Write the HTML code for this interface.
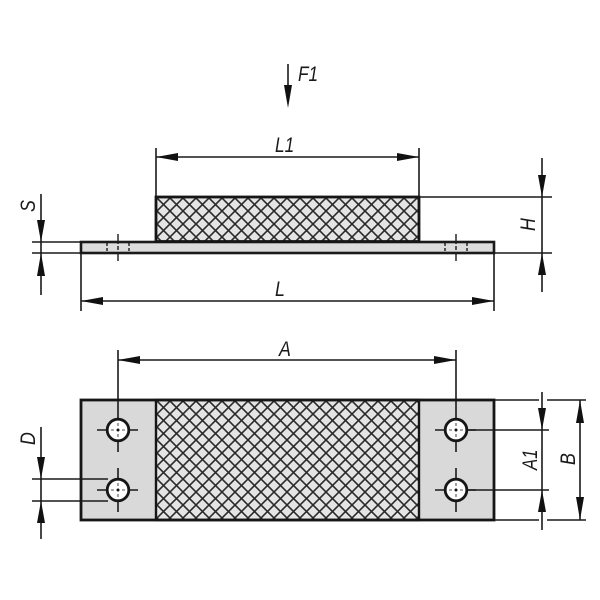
<!DOCTYPE html>
<html><head><meta charset="utf-8"><style>
html,body{margin:0;padding:0;background:#fff}
svg{display:block}
text{font-family:"Liberation Sans",sans-serif;font-style:italic;font-size:21px;fill:#1a1a1a}
</style></head><body>
<svg width="600" height="600" viewBox="0 0 600 600" xmlns="http://www.w3.org/2000/svg">
<defs>
<pattern id="m" width="13" height="13" patternUnits="userSpaceOnUse" patternTransform="translate(157 198)">
<rect width="13" height="13" fill="#e4e4e4"/>
<path d="M0 0L13 13M13 0L0 13" stroke="#2a2a2a" stroke-width="1.6"/>
</pattern>
<pattern id="m2" width="13" height="13" patternUnits="userSpaceOnUse" patternTransform="translate(157 401)">
<rect width="13" height="13" fill="#e4e4e4"/>
<path d="M0 0L13 13M13 0L0 13" stroke="#2a2a2a" stroke-width="1.6"/>
</pattern>
</defs>
<!-- top view -->
<rect x="81" y="242" width="413" height="11" fill="#dcdcdc" stroke="#1a1a1a" stroke-width="2.6"/>
<rect x="156" y="197" width="263" height="44.5" fill="url(#m)" stroke="#161616" stroke-width="2.8"/>
<g stroke="#1a1a1a" stroke-width="1.4" fill="none">
<path d="M107 243V252M129 243V252M445 243V252M467 243V252" stroke-dasharray="3 2"/>
<path d="M118 234V261M456 234V261" stroke-dasharray="10 2 4 2 10"/>
</g>
<g stroke="#1a1a1a" stroke-width="1.6" fill="none">
<path d="M288 64V90"/>
<path d="M156 148V197M419 148V197M156 157H419"/>
<path d="M41 194V295M32 242H81M32 253H81"/>
<path d="M81 253V311M494 253V311M81 301H494"/>
<path d="M542 158V292M419 197H552M494 253H552"/>
<path d="M118 350V400M456 350V400M118 360H456"/>
<path d="M41 427V539M32 479H81M32 501H81"/>
<path d="M542 392V530M494 430H549M494 490H549"/>
<path d="M494 400H539M547 400H586M494 520H539M547 520H586M580 400V520"/>
</g>
<!-- bottom view -->
<path d="M82 401H156V519H82ZM419 401H493V519H419Z" fill="#d9d9d9"/>
<rect x="156" y="400" width="263" height="120" fill="url(#m2)" stroke="#161616" stroke-width="2.4"/>
<rect x="81" y="400" width="413" height="120" fill="none" stroke="#161616" stroke-width="2.8"/>
<g stroke="#1a1a1a" stroke-width="1.6" fill="none">
<path d="M81 479H108M81 501H108M118 400V420M456 400V420M468 430H494M468 490H494"/>
<path d="M97 430H108M128 430H138M118 441V452"/>
<path d="M97 490H108M128 490H138M118 468V479M118 501V512"/>
<path d="M435 430H446M466 430H476M456 441V452"/>
<path d="M435 490H446M466 490H476M456 468V479M456 501V512"/>
</g>
<g stroke="#161616" fill="#fff" stroke-width="2.8">
<circle cx="118" cy="430" r="10.8"/><circle cx="118" cy="490" r="10.8"/>
<circle cx="456" cy="430" r="10.8"/><circle cx="456" cy="490" r="10.8"/>
</g>
<g stroke="#555" stroke-width="1.1" fill="none">
<path d="M111 430H114M122 430H125M118 423V426M118 434V437"/>
<path d="M111 490H114M122 490H125M118 483V486M118 494V497"/>
<path d="M449 430H452M460 430H463M456 423V426M456 434V437"/>
<path d="M449 490H452M460 490H463M456 483V486M456 494V497"/>
</g>
<g fill="#111">
<circle cx="118" cy="430" r="1.5"/><circle cx="118" cy="490" r="1.5"/>
<circle cx="456" cy="430" r="1.5"/><circle cx="456" cy="490" r="1.5"/>
<path d="M288 108L284 85H292Z"/>
<path d="M156 157L178 153V161ZM419 157L397 153V161Z"/>
<path d="M41 242L37 220H45ZM41 253L37 276H45Z"/>
<path d="M81 301L103 297V305ZM494 301L472 297V305Z"/>
<path d="M542 197L538 175H546ZM542 253L538 275H546Z"/>
<path d="M118 360L140 356V364ZM456 360L434 356V364Z"/>
<path d="M41 479L37 457H45ZM41 501L37 523H45Z"/>
<path d="M542 430L538 408H546ZM542 490L538 512H546Z"/>
<path d="M580 400L576 423H584ZM580 520L576 497H584Z"/>
</g>
<text transform="translate(298 81) scale(.82 1)">F1</text>
<text transform="translate(275 152) scale(.82 1)">L1</text>
<text transform="translate(275 296) scale(.85 1)">L</text>
<text transform="translate(279 356) scale(.85 1)">A</text>
<text transform="translate(35 212) rotate(-90) scale(.85 1)">S</text>
<text transform="translate(535 231) rotate(-90) scale(.85 1)">H</text>
<text transform="translate(35 445) rotate(-90) scale(.85 1)">D</text>
<text transform="translate(537 470) rotate(-90) scale(.8 1)">A1</text>
<text transform="translate(575 465) rotate(-90) scale(.85 1)">B</text>
</svg>
</body></html>
